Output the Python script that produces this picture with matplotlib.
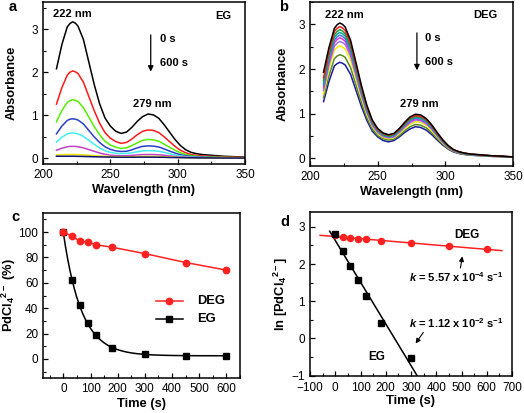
import numpy as np
import matplotlib
matplotlib.use("Agg")
import matplotlib.pyplot as plt
from matplotlib.ticker import MultipleLocator

plt.rcParams['font.family'] = ['Liberation Sans', 'DejaVu Sans']
plt.rcParams['mathtext.fontset'] = 'custom'
plt.rcParams['mathtext.rm'] = 'Liberation Sans'
plt.rcParams['mathtext.it'] = 'Liberation Sans:italic:bold'
plt.rcParams['mathtext.bf'] = 'Liberation Sans:bold'

# ---------------- data ----------------
wavelength = [210, 214, 218, 220, 222, 224, 226, 230, 234, 238, 242, 246, 250, 254, 258, 262, 266, 270, 274, 278,
              282, 286, 290, 294, 298, 302, 306, 310, 314, 318, 322, 326, 330, 334, 338, 342, 346, 350]

eg_colors = ['black', '#ff1a1a', '#55ee00', '#2a3fc8', '#44eeee', '#c040c8', '#e8e800', '#101070']
eg_0 = [2.08, 2.64, 3.05, 3.13, 3.17, 3.14, 3.07, 2.76, 2.24, 1.72, 1.27, 0.94, 0.75, 0.63, 0.58, 0.61, 0.72, 0.86, 0.97, 1.03,
        1.01, 0.93, 0.78, 0.61, 0.44, 0.30, 0.20, 0.14, 0.11, 0.09, 0.08, 0.07, 0.06, 0.05, 0.045, 0.04, 0.035, 0.03]
eg_1 = [1.26, 1.64, 1.93, 2.00, 2.03, 2.01, 1.97, 1.77, 1.44, 1.11, 0.82, 0.60, 0.47, 0.39, 0.35, 0.37, 0.45, 0.55, 0.63, 0.66,
        0.65, 0.60, 0.50, 0.39, 0.28, 0.19, 0.13, 0.09, 0.07, 0.06, 0.05, 0.045, 0.04, 0.035, 0.03, 0.028, 0.025, 0.02]
eg_2 = [0.85, 1.11, 1.30, 1.34, 1.36, 1.35, 1.32, 1.18, 0.96, 0.74, 0.55, 0.40, 0.31, 0.26, 0.23, 0.245, 0.30, 0.36, 0.42, 0.44,
        0.43, 0.40, 0.33, 0.26, 0.19, 0.13, 0.09, 0.065, 0.05, 0.04, 0.035, 0.03, 0.028, 0.025, 0.022, 0.02, 0.018, 0.015]
eg_3 = [0.57, 0.75, 0.88, 0.91, 0.92, 0.91, 0.89, 0.80, 0.65, 0.50, 0.37, 0.27, 0.21, 0.175, 0.16, 0.165, 0.20, 0.245, 0.28, 0.29,
        0.285, 0.265, 0.22, 0.17, 0.125, 0.085, 0.06, 0.045, 0.035, 0.03, 0.025, 0.022, 0.02, 0.018, 0.016, 0.015, 0.013, 0.012]
eg_4 = [0.38, 0.49, 0.57, 0.585, 0.59, 0.585, 0.57, 0.51, 0.42, 0.33, 0.24, 0.18, 0.14, 0.12, 0.11, 0.115, 0.13, 0.155, 0.175, 0.18,
        0.178, 0.165, 0.14, 0.11, 0.08, 0.057, 0.042, 0.032, 0.026, 0.022, 0.02, 0.018, 0.016, 0.015, 0.014, 0.013, 0.012, 0.011]
eg_5 = [0.19, 0.235, 0.27, 0.278, 0.28, 0.278, 0.27, 0.245, 0.205, 0.165, 0.125, 0.095, 0.075, 0.065, 0.06, 0.062, 0.07, 0.08, 0.088, 0.09,
        0.089, 0.083, 0.072, 0.058, 0.045, 0.035, 0.028, 0.022, 0.019, 0.017, 0.015, 0.014, 0.013, 0.012, 0.011, 0.011, 0.01, 0.01]
eg_6 = [0.085, 0.088, 0.09, 0.09, 0.09, 0.089, 0.088, 0.082, 0.073, 0.064, 0.055, 0.048, 0.043, 0.04, 0.038, 0.038, 0.04, 0.043, 0.045, 0.046,
        0.045, 0.042, 0.037, 0.032, 0.027, 0.022, 0.019, 0.016, 0.014, 0.013, 0.012, 0.011, 0.01, 0.01, 0.009, 0.009, 0.008, 0.008]
eg_7 = [0.05, 0.05, 0.05, 0.05, 0.05, 0.049, 0.048, 0.045, 0.042, 0.038, 0.035, 0.032, 0.03, 0.028, 0.027, 0.027, 0.027, 0.028, 0.029, 0.029,
        0.028, 0.027, 0.025, 0.022, 0.02, 0.018, 0.016, 0.014, 0.013, 0.012, 0.011, 0.01, 0.01, 0.009, 0.009, 0.008, 0.008, 0.008]
eg_spectra = [eg_0, eg_1, eg_2, eg_3, eg_4, eg_5, eg_6, eg_7]

deg_colors = ['black', '#ff1a1a', '#1f9a3a', '#1aa0a0', '#3a7de0', '#e030e0', '#a070e0', '#f0f000', '#5a8a20', '#1a1aa0']
deg_0 = [1.93, 2.48, 2.91, 2.99, 3.03, 3.00, 2.94, 2.64, 2.14, 1.63, 1.19, 0.86, 0.67, 0.57, 0.53, 0.56, 0.67, 0.81, 0.93, 0.99,
         0.97, 0.89, 0.75, 0.58, 0.42, 0.29, 0.20, 0.15, 0.12, 0.10, 0.09, 0.08, 0.07, 0.06, 0.055, 0.05, 0.04, 0.035]
deg_1 = [1.80, 2.39, 2.84, 2.91, 2.95, 2.92, 2.86, 2.57, 2.08, 1.59, 1.16, 0.84, 0.65, 0.56, 0.52, 0.55, 0.65, 0.79, 0.91, 0.96,
         0.94, 0.87, 0.73, 0.56, 0.41, 0.28, 0.19, 0.15, 0.12, 0.10, 0.09, 0.08, 0.07, 0.06, 0.05, 0.05, 0.04, 0.035]
deg_2 = [1.74, 2.32, 2.77, 2.84, 2.88, 2.85, 2.79, 2.51, 2.03, 1.55, 1.13, 0.82, 0.64, 0.54, 0.50, 0.53, 0.64, 0.77, 0.88, 0.94,
         0.92, 0.85, 0.71, 0.55, 0.40, 0.28, 0.19, 0.14, 0.115, 0.095, 0.085, 0.075, 0.065, 0.058, 0.052, 0.047, 0.04, 0.034]
deg_3 = [1.68, 2.27, 2.71, 2.78, 2.82, 2.79, 2.74, 2.46, 1.99, 1.52, 1.11, 0.80, 0.62, 0.53, 0.49, 0.52, 0.62, 0.75, 0.87, 0.92,
         0.90, 0.83, 0.70, 0.54, 0.39, 0.27, 0.19, 0.14, 0.11, 0.093, 0.083, 0.074, 0.065, 0.056, 0.051, 0.046, 0.038, 0.033]
deg_4 = [1.63, 2.21, 2.65, 2.72, 2.76, 2.73, 2.68, 2.41, 1.95, 1.48, 1.08, 0.78, 0.61, 0.52, 0.48, 0.51, 0.61, 0.74, 0.85, 0.90,
         0.88, 0.81, 0.68, 0.53, 0.38, 0.26, 0.18, 0.135, 0.11, 0.09, 0.08, 0.072, 0.063, 0.055, 0.05, 0.045, 0.037, 0.032]
deg_5 = [1.58, 2.16, 2.59, 2.66, 2.70, 2.67, 2.62, 2.36, 1.91, 1.45, 1.06, 0.77, 0.60, 0.51, 0.47, 0.50, 0.60, 0.72, 0.83, 0.88,
         0.86, 0.79, 0.67, 0.52, 0.37, 0.26, 0.18, 0.13, 0.107, 0.089, 0.08, 0.071, 0.062, 0.054, 0.049, 0.044, 0.036, 0.031]
deg_6 = [1.52, 2.09, 2.51, 2.58, 2.62, 2.59, 2.55, 2.29, 1.85, 1.41, 1.03, 0.74, 0.58, 0.49, 0.46, 0.48, 0.58, 0.70, 0.80, 0.86,
         0.84, 0.77, 0.65, 0.50, 0.36, 0.25, 0.17, 0.13, 0.104, 0.087, 0.078, 0.069, 0.06, 0.053, 0.048, 0.043, 0.035, 0.03]
deg_7 = [1.45, 2.00, 2.42, 2.48, 2.52, 2.49, 2.45, 2.20, 1.78, 1.36, 0.99, 0.72, 0.56, 0.47, 0.44, 0.47, 0.56, 0.67, 0.77, 0.82,
         0.81, 0.74, 0.62, 0.48, 0.35, 0.24, 0.17, 0.125, 0.10, 0.085, 0.075, 0.067, 0.058, 0.051, 0.046, 0.042, 0.034, 0.03]
deg_8 = [1.36, 1.85, 2.23, 2.29, 2.32, 2.30, 2.26, 2.03, 1.64, 1.25, 0.91, 0.66, 0.51, 0.44, 0.41, 0.43, 0.51, 0.62, 0.71, 0.76,
         0.74, 0.68, 0.57, 0.44, 0.32, 0.22, 0.155, 0.115, 0.093, 0.078, 0.07, 0.063, 0.055, 0.048, 0.044, 0.04, 0.033, 0.028]
deg_9 = [1.27, 1.72, 2.07, 2.12, 2.15, 2.13, 2.09, 1.88, 1.52, 1.16, 0.85, 0.61, 0.48, 0.40, 0.37, 0.40, 0.48, 0.58, 0.66, 0.71,
         0.69, 0.63, 0.53, 0.41, 0.30, 0.21, 0.145, 0.11, 0.088, 0.074, 0.066, 0.06, 0.052, 0.046, 0.042, 0.038, 0.032, 0.027]
deg_spectra = [deg_0, deg_1, deg_2, deg_3, deg_4, deg_5, deg_6, deg_7, deg_8, deg_9]

time_deg = [0, 30, 60, 90, 120, 180, 300, 450, 600]
pct_deg = [100, 97, 93, 92, 90, 88, 83, 76, 70]
time_eg = [0, 30, 60, 90, 120, 180, 300, 450, 600]
pct_eg = [100, 62, 42.5, 28.5, 18.5, 9, 3.8, 2.5, 2]

ln_time_deg = [0, 30, 60, 90, 120, 180, 300, 450, 600]
ln_deg = [2.77, 2.72, 2.69, 2.68, 2.66, 2.63, 2.57, 2.48, 2.40]
ln_time_eg = [0, 30, 60, 90, 120, 180, 300]
ln_eg = [2.80, 2.36, 1.96, 1.57, 1.13, 0.40, -0.53]

# ---------------- figure ----------------
W, H = 524, 413
fig = plt.figure(figsize=(W / 100, H / 100), dpi=100)


def ax_at(l, t, r, b):
    return fig.add_axes([l / W, 1 - b / H, (r - l) / W, (b - t) / H])


def place_ylabel(ax, right_px, l, r):
    ax.yaxis.set_label_coords((right_px - l) / (r - l), 0.5)


TICK_FS = 8.5
LAB_FS = 9.3
ANN_FS = 8.0
LET_FS = 10.5


def style(ax):
    for s in ax.spines.values():
        s.set_linewidth(1.1)
    ax.tick_params(direction='in', which='major', length=3.5, width=0.9, labelsize=TICK_FS, pad=3.5)
    ax.tick_params(direction='in', which='minor', length=2, width=0.8)


# panel a
axa = ax_at(43, 2, 245, 164)
for y, c in zip(eg_spectra, eg_colors):
    axa.plot(wavelength, y, color=c, lw=1.1)
axa.set_xlim(200, 350)
axa.set_ylim(-0.13, 3.63)
axa.xaxis.set_major_locator(MultipleLocator(50))
axa.xaxis.set_minor_locator(MultipleLocator(25))
axa.yaxis.set_major_locator(MultipleLocator(1))
axa.yaxis.set_minor_locator(MultipleLocator(0.5))
style(axa)
axa.set_xlabel('Wavelength (nm)', fontsize=LAB_FS, fontweight='bold', labelpad=2)
axa.set_ylabel('Absorbance', fontsize=LAB_FS, fontweight='bold')
place_ylabel(axa, 18, 43, 245)
axa.text(222, 3.34, '222 nm', fontsize=ANN_FS, fontweight='bold', ha='center', va='center')
axa.text(281, 1.26, '279 nm', fontsize=ANN_FS, fontweight='bold', ha='center', va='center')
axa.text(340, 3.31, 'EG', fontsize=ANN_FS, fontweight='bold', ha='right', va='center')
axa.annotate('', xy=(280, 1.95), xytext=(280, 2.93),
             arrowprops=dict(arrowstyle='-|>', color='black', lw=0.9, mutation_scale=8))
axa.text(287, 2.78, '0 s', fontsize=ANN_FS, fontweight='bold', va='center')
axa.text(287, 2.22, '600 s', fontsize=ANN_FS, fontweight='bold', va='center')
fig.text(13 / W, 1 - 7 / H, 'a', fontsize=LET_FS, fontweight='bold', ha='center', va='center')

# panel b
axb = ax_at(310, 2, 513, 166)
for y, c in zip(deg_spectra[::-1], deg_colors[::-1]):
    axb.plot(wavelength, y, color=c, lw=1.1)
axb.set_xlim(200, 350)
axb.set_ylim(-0.17, 3.5)
axb.xaxis.set_major_locator(MultipleLocator(50))
axb.xaxis.set_minor_locator(MultipleLocator(25))
axb.yaxis.set_major_locator(MultipleLocator(1))
axb.yaxis.set_minor_locator(MultipleLocator(0.5))
style(axb)
axb.set_xlabel('Wavelength (nm)', fontsize=LAB_FS, fontweight='bold', labelpad=2)
axb.set_ylabel('Absorbance', fontsize=LAB_FS, fontweight='bold')
place_ylabel(axb, 289, 310, 513)
axb.text(225.5, 3.22, '222 nm', fontsize=ANN_FS, fontweight='bold', ha='center', va='center')
axb.text(280.5, 1.21, '279 nm', fontsize=ANN_FS, fontweight='bold', ha='center', va='center')
axb.text(338.5, 3.2, 'DEG', fontsize=ANN_FS, fontweight='bold', ha='right', va='center')
axb.annotate('', xy=(279, 1.91), xytext=(279, 2.87),
             arrowprops=dict(arrowstyle='-|>', color='black', lw=0.9, mutation_scale=8))
axb.text(285, 2.69, '0 s', fontsize=ANN_FS, fontweight='bold', va='center')
axb.text(285, 2.15, '600 s', fontsize=ANN_FS, fontweight='bold', va='center')
fig.text(284 / W, 1 - 7 / H, 'b', fontsize=LET_FS, fontweight='bold', ha='center', va='center')

# panel c
axc = ax_at(43, 213, 240, 378)
# exponential fit for EG data (grid search over decay constant and offset)
te = np.array(time_eg, float)
pe = np.array(pct_eg, float)
best = None
for k in np.linspace(0.005, 0.03, 251):
    for c0 in np.linspace(0, 5, 51):
        e = np.exp(-k * te)
        a = np.sum((pe - c0) * e) / np.sum(e * e)
        err = np.sum((a * e + c0 - pe) ** 2)
        if best is None or err < best[0]:
            best = (err, k, c0, a)
_, kf, cf, af = best
tt = np.linspace(0, 600, 300)
axc.plot(tt, af * np.exp(-kf * tt) + cf, color='black', lw=1.1)
axc.plot(time_eg, pct_eg, ls='none', marker='s', ms=4.2, color='black')
axc.plot(time_deg, pct_deg, color='#ff2020', lw=1.1, marker='o', ms=4.6)
axc.set_xlim(-75, 650)
axc.set_ylim(-15, 115)
axc.xaxis.set_major_locator(MultipleLocator(100))
axc.xaxis.set_minor_locator(MultipleLocator(50))
axc.yaxis.set_major_locator(MultipleLocator(20))
axc.yaxis.set_minor_locator(MultipleLocator(10))
style(axc)
axc.set_xlabel('Time (s)', fontsize=LAB_FS, fontweight='bold', labelpad=2)
axc.set_ylabel(r'PdCl$_\mathbf{4}$$^\mathbf{2-}$ (%)', fontsize=LAB_FS, fontweight='bold')
place_ylabel(axc, 18, 43, 240)
axc.plot([342, 440], [45.7, 45.7], color='#ff2020', lw=1.1)
axc.plot([388], [45.7], marker='o', ms=4.6, color='#ff2020')
axc.text(493, 45.7, 'DEG', fontsize=LAB_FS, fontweight='bold', va='center')
axc.plot([342, 440], [31.5, 31.5], color='black', lw=1.1)
axc.plot([388], [31.5], marker='s', ms=4.2, color='black')
axc.text(493, 31.5, 'EG', fontsize=LAB_FS, fontweight='bold', va='center')
fig.text(15 / W, 1 - 217 / H, 'c', fontsize=LET_FS, fontweight='bold', ha='center', va='center')

# panel d
axd = ax_at(310, 212, 512, 375.5)
pd_ = np.polyfit(ln_time_deg, ln_deg, 1)
pe_ = np.polyfit(ln_time_eg, ln_eg, 1)
td = np.array([-60, 660])
axd.plot(td, np.polyval(pd_, td), color='#ff2020', lw=1.1)
te2 = np.array([-22, 330])
axd.plot(te2, np.polyval(pe_, te2), color='black', lw=1.1)
axd.plot(ln_time_deg, ln_deg, ls='none', marker='o', ms=4.4, color='#ff2020')
axd.plot(ln_time_eg, ln_eg, ls='none', marker='s', ms=4.2, color='black')
axd.set_xlim(-100, 700)
axd.set_ylim(-1, 3.4)
axd.xaxis.set_major_locator(MultipleLocator(100))
axd.xaxis.set_minor_locator(MultipleLocator(50))
axd.yaxis.set_major_locator(MultipleLocator(1))
axd.yaxis.set_minor_locator(MultipleLocator(0.5))
style(axd)
axd.tick_params(axis='x', which='major', pad=4.5)
axd.set_xlabel('Time (s)', fontsize=LAB_FS, fontweight='bold', labelpad=1)
axd.set_ylabel(r'ln [PdCl$_\mathbf{4}$$^\mathbf{2-}$]', fontsize=LAB_FS, fontweight='bold')
place_ylabel(axd, 290, 310, 512)
axd.text(522, 2.78, 'DEG', fontsize=ANN_FS + 0.5, fontweight='bold', ha='center', va='center')
axd.text(292, 1.64, r'$k$ = 5.57 x 10$^{\mathbf{-4}}$ s$^{\mathbf{-1}}$', fontsize=ANN_FS, fontweight='bold', va='center')
axd.annotate('', xy=(505, 2.28), xytext=(494, 1.82),
             arrowprops=dict(arrowstyle='-|>', color='black', lw=0.8, mutation_scale=7))
axd.text(292, 0.42, r'$k$ = 1.12 x 10$^{\mathbf{-2}}$ s$^{\mathbf{-1}}$', fontsize=ANN_FS, fontweight='bold', va='center')
axd.annotate('', xy=(312, -0.2), xytext=(355, 0.22),
             arrowprops=dict(arrowstyle='-|>', color='black', lw=0.8, mutation_scale=7))
axd.text(165, -0.5, 'EG', fontsize=ANN_FS + 0.5, fontweight='bold', ha='center', va='center')
fig.text(285 / W, 1 - 222 / H, 'd', fontsize=LET_FS, fontweight='bold', ha='center', va='center')

fig.savefig('out.png', dpi=100)
